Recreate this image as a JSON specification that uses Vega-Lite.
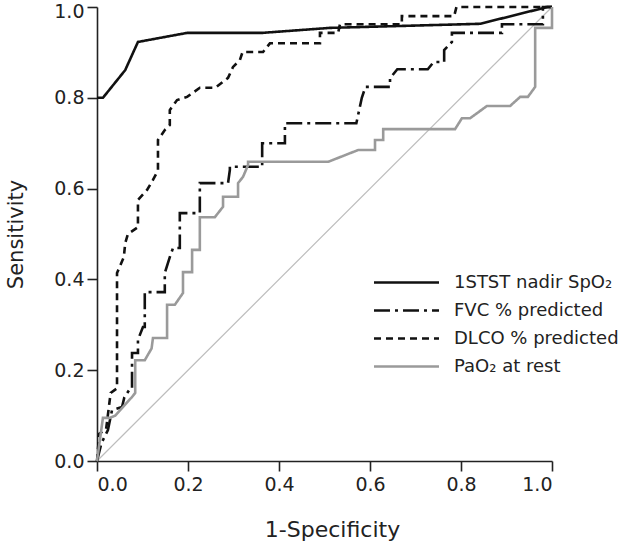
{
  "$schema": "https://vega.github.io/schema/vega-lite/v6.json",
  "autosize": {"type": "none"},
  "width": 455,
  "height": 454,
  "padding": {"left": 97, "top": 7, "right": 76, "bottom": 84},
  "background": "white",
  "config": {
    "view": {"stroke": null},
    "font": "DejaVu Sans",
    "axis": {
      "grid": false,
      "domainColor": "#222",
      "domainWidth": 1.6,
      "tickColor": "#222",
      "tickWidth": 1.6,
      "tickSize": 10,
      "labelFont": "DejaVu Sans",
      "labelFontSize": 19,
      "labelColor": "#222",
      "titleFont": "DejaVu Sans",
      "titleFontSize": 22,
      "titleFontWeight": "normal",
      "titleColor": "#222"
    }
  },
  "datasets": {
    "roc": [
      {"s": "1STST nadir SpO₂", "i": 0, "x": 0, "y": 0.80},
      {"s": "1STST nadir SpO₂", "i": 1, "x": 0.013, "y": 0.80},
      {"s": "1STST nadir SpO₂", "i": 2, "x": 0.062, "y": 0.861},
      {"s": "1STST nadir SpO₂", "i": 3, "x": 0.09, "y": 0.923},
      {"s": "1STST nadir SpO₂", "i": 4, "x": 0.198, "y": 0.943},
      {"s": "1STST nadir SpO₂", "i": 5, "x": 0.363, "y": 0.943},
      {"s": "1STST nadir SpO₂", "i": 6, "x": 0.512, "y": 0.954},
      {"s": "1STST nadir SpO₂", "i": 7, "x": 0.842, "y": 0.963},
      {"s": "1STST nadir SpO₂", "i": 8, "x": 0.99, "y": 1.0},
      {"s": "1STST nadir SpO₂", "i": 9, "x": 1.0, "y": 1.0},

      {"s": "FVC % predicted", "i": 0, "x": 0, "y": 0},
      {"s": "FVC % predicted", "i": 1, "x": 0.01, "y": 0.04},
      {"s": "FVC % predicted", "i": 2, "x": 0.024, "y": 0.068},
      {"s": "FVC % predicted", "i": 3, "x": 0.033, "y": 0.112},
      {"s": "FVC % predicted", "i": 4, "x": 0.055, "y": 0.119},
      {"s": "FVC % predicted", "i": 5, "x": 0.06, "y": 0.14},
      {"s": "FVC % predicted", "i": 6, "x": 0.073, "y": 0.16},
      {"s": "FVC % predicted", "i": 7, "x": 0.077, "y": 0.16},
      {"s": "FVC % predicted", "i": 8, "x": 0.077, "y": 0.238},
      {"s": "FVC % predicted", "i": 9, "x": 0.09, "y": 0.238},
      {"s": "FVC % predicted", "i": 10, "x": 0.09, "y": 0.267},
      {"s": "FVC % predicted", "i": 11, "x": 0.101, "y": 0.295},
      {"s": "FVC % predicted", "i": 12, "x": 0.105, "y": 0.295},
      {"s": "FVC % predicted", "i": 13, "x": 0.105, "y": 0.372},
      {"s": "FVC % predicted", "i": 14, "x": 0.149, "y": 0.372},
      {"s": "FVC % predicted", "i": 15, "x": 0.149, "y": 0.414},
      {"s": "FVC % predicted", "i": 16, "x": 0.16, "y": 0.449},
      {"s": "FVC % predicted", "i": 17, "x": 0.167, "y": 0.469},
      {"s": "FVC % predicted", "i": 18, "x": 0.182, "y": 0.469},
      {"s": "FVC % predicted", "i": 19, "x": 0.182, "y": 0.546},
      {"s": "FVC % predicted", "i": 20, "x": 0.226, "y": 0.546},
      {"s": "FVC % predicted", "i": 21, "x": 0.226, "y": 0.612},
      {"s": "FVC % predicted", "i": 22, "x": 0.288, "y": 0.612},
      {"s": "FVC % predicted", "i": 23, "x": 0.292, "y": 0.641},
      {"s": "FVC % predicted", "i": 24, "x": 0.292, "y": 0.648},
      {"s": "FVC % predicted", "i": 25, "x": 0.363, "y": 0.648},
      {"s": "FVC % predicted", "i": 26, "x": 0.363, "y": 0.70},
      {"s": "FVC % predicted", "i": 27, "x": 0.413, "y": 0.70},
      {"s": "FVC % predicted", "i": 28, "x": 0.413, "y": 0.744},
      {"s": "FVC % predicted", "i": 29, "x": 0.57, "y": 0.744},
      {"s": "FVC % predicted", "i": 30, "x": 0.582, "y": 0.80},
      {"s": "FVC % predicted", "i": 31, "x": 0.59, "y": 0.824},
      {"s": "FVC % predicted", "i": 32, "x": 0.644, "y": 0.824},
      {"s": "FVC % predicted", "i": 33, "x": 0.644, "y": 0.843},
      {"s": "FVC % predicted", "i": 34, "x": 0.66, "y": 0.863},
      {"s": "FVC % predicted", "i": 35, "x": 0.727, "y": 0.863},
      {"s": "FVC % predicted", "i": 36, "x": 0.74, "y": 0.879},
      {"s": "FVC % predicted", "i": 37, "x": 0.763, "y": 0.879},
      {"s": "FVC % predicted", "i": 38, "x": 0.763, "y": 0.905},
      {"s": "FVC % predicted", "i": 39, "x": 0.78, "y": 0.923},
      {"s": "FVC % predicted", "i": 40, "x": 0.78, "y": 0.943},
      {"s": "FVC % predicted", "i": 41, "x": 0.89, "y": 0.943},
      {"s": "FVC % predicted", "i": 42, "x": 0.89, "y": 0.962},
      {"s": "FVC % predicted", "i": 43, "x": 0.98, "y": 0.962},
      {"s": "FVC % predicted", "i": 44, "x": 0.98, "y": 1.0},
      {"s": "FVC % predicted", "i": 45, "x": 1.0, "y": 1.0},

      {"s": "DLCO % predicted", "i": 0, "x": 0, "y": 0},
      {"s": "DLCO % predicted", "i": 1, "x": 0.005, "y": 0.06},
      {"s": "DLCO % predicted", "i": 2, "x": 0.02, "y": 0.07},
      {"s": "DLCO % predicted", "i": 3, "x": 0.03, "y": 0.15},
      {"s": "DLCO % predicted", "i": 4, "x": 0.044, "y": 0.16},
      {"s": "DLCO % predicted", "i": 5, "x": 0.044, "y": 0.414},
      {"s": "DLCO % predicted", "i": 6, "x": 0.059, "y": 0.449},
      {"s": "DLCO % predicted", "i": 7, "x": 0.062, "y": 0.48},
      {"s": "DLCO % predicted", "i": 8, "x": 0.068, "y": 0.50},
      {"s": "DLCO % predicted", "i": 9, "x": 0.09, "y": 0.515},
      {"s": "DLCO % predicted", "i": 10, "x": 0.09, "y": 0.575},
      {"s": "DLCO % predicted", "i": 11, "x": 0.11, "y": 0.597},
      {"s": "DLCO % predicted", "i": 12, "x": 0.123, "y": 0.619},
      {"s": "DLCO % predicted", "i": 13, "x": 0.134, "y": 0.64},
      {"s": "DLCO % predicted", "i": 14, "x": 0.134, "y": 0.707},
      {"s": "DLCO % predicted", "i": 15, "x": 0.149, "y": 0.729},
      {"s": "DLCO % predicted", "i": 16, "x": 0.16, "y": 0.74},
      {"s": "DLCO % predicted", "i": 17, "x": 0.16, "y": 0.773},
      {"s": "DLCO % predicted", "i": 18, "x": 0.176, "y": 0.795},
      {"s": "DLCO % predicted", "i": 19, "x": 0.198, "y": 0.802},
      {"s": "DLCO % predicted", "i": 20, "x": 0.226, "y": 0.822},
      {"s": "DLCO % predicted", "i": 21, "x": 0.26, "y": 0.822},
      {"s": "DLCO % predicted", "i": 22, "x": 0.288, "y": 0.844},
      {"s": "DLCO % predicted", "i": 23, "x": 0.299, "y": 0.868},
      {"s": "DLCO % predicted", "i": 24, "x": 0.314, "y": 0.883},
      {"s": "DLCO % predicted", "i": 25, "x": 0.32, "y": 0.901},
      {"s": "DLCO % predicted", "i": 26, "x": 0.365, "y": 0.901},
      {"s": "DLCO % predicted", "i": 27, "x": 0.38, "y": 0.92},
      {"s": "DLCO % predicted", "i": 28, "x": 0.49, "y": 0.92},
      {"s": "DLCO % predicted", "i": 29, "x": 0.49, "y": 0.943},
      {"s": "DLCO % predicted", "i": 30, "x": 0.53, "y": 0.943},
      {"s": "DLCO % predicted", "i": 31, "x": 0.534, "y": 0.962},
      {"s": "DLCO % predicted", "i": 32, "x": 0.67, "y": 0.962},
      {"s": "DLCO % predicted", "i": 33, "x": 0.67, "y": 0.98},
      {"s": "DLCO % predicted", "i": 34, "x": 0.785, "y": 0.98},
      {"s": "DLCO % predicted", "i": 35, "x": 0.79, "y": 1.0},
      {"s": "DLCO % predicted", "i": 36, "x": 1.0, "y": 1.0},

      {"s": "PaO₂ at rest", "i": 0, "x": 0, "y": 0},
      {"s": "PaO₂ at rest", "i": 1, "x": 0.013, "y": 0.095},
      {"s": "PaO₂ at rest", "i": 2, "x": 0.028, "y": 0.095},
      {"s": "PaO₂ at rest", "i": 3, "x": 0.04, "y": 0.10},
      {"s": "PaO₂ at rest", "i": 4, "x": 0.077, "y": 0.141},
      {"s": "PaO₂ at rest", "i": 5, "x": 0.084, "y": 0.15},
      {"s": "PaO₂ at rest", "i": 6, "x": 0.084, "y": 0.222},
      {"s": "PaO₂ at rest", "i": 7, "x": 0.105, "y": 0.222},
      {"s": "PaO₂ at rest", "i": 8, "x": 0.12, "y": 0.248},
      {"s": "PaO₂ at rest", "i": 9, "x": 0.123, "y": 0.271},
      {"s": "PaO₂ at rest", "i": 10, "x": 0.154, "y": 0.271},
      {"s": "PaO₂ at rest", "i": 11, "x": 0.154, "y": 0.344},
      {"s": "PaO₂ at rest", "i": 12, "x": 0.171, "y": 0.344},
      {"s": "PaO₂ at rest", "i": 13, "x": 0.189, "y": 0.37},
      {"s": "PaO₂ at rest", "i": 14, "x": 0.189, "y": 0.416},
      {"s": "PaO₂ at rest", "i": 15, "x": 0.209, "y": 0.416},
      {"s": "PaO₂ at rest", "i": 16, "x": 0.209, "y": 0.465},
      {"s": "PaO₂ at rest", "i": 17, "x": 0.226, "y": 0.465},
      {"s": "PaO₂ at rest", "i": 18, "x": 0.226, "y": 0.537},
      {"s": "PaO₂ at rest", "i": 19, "x": 0.259, "y": 0.537},
      {"s": "PaO₂ at rest", "i": 20, "x": 0.277, "y": 0.56},
      {"s": "PaO₂ at rest", "i": 21, "x": 0.277, "y": 0.582},
      {"s": "PaO₂ at rest", "i": 22, "x": 0.31, "y": 0.582},
      {"s": "PaO₂ at rest", "i": 23, "x": 0.31, "y": 0.612},
      {"s": "PaO₂ at rest", "i": 24, "x": 0.321, "y": 0.626},
      {"s": "PaO₂ at rest", "i": 25, "x": 0.332, "y": 0.652},
      {"s": "PaO₂ at rest", "i": 26, "x": 0.332, "y": 0.659},
      {"s": "PaO₂ at rest", "i": 27, "x": 0.508, "y": 0.659},
      {"s": "PaO₂ at rest", "i": 28, "x": 0.574, "y": 0.685},
      {"s": "PaO₂ at rest", "i": 29, "x": 0.611, "y": 0.685},
      {"s": "PaO₂ at rest", "i": 30, "x": 0.611, "y": 0.707},
      {"s": "PaO₂ at rest", "i": 31, "x": 0.629, "y": 0.707},
      {"s": "PaO₂ at rest", "i": 32, "x": 0.629, "y": 0.731},
      {"s": "PaO₂ at rest", "i": 33, "x": 0.787, "y": 0.731},
      {"s": "PaO₂ at rest", "i": 34, "x": 0.802, "y": 0.755},
      {"s": "PaO₂ at rest", "i": 35, "x": 0.82, "y": 0.755},
      {"s": "PaO₂ at rest", "i": 36, "x": 0.857, "y": 0.782},
      {"s": "PaO₂ at rest", "i": 37, "x": 0.908, "y": 0.782},
      {"s": "PaO₂ at rest", "i": 38, "x": 0.93, "y": 0.802},
      {"s": "PaO₂ at rest", "i": 39, "x": 0.947, "y": 0.802},
      {"s": "PaO₂ at rest", "i": 40, "x": 0.963, "y": 0.824},
      {"s": "PaO₂ at rest", "i": 41, "x": 0.963, "y": 0.954},
      {"s": "PaO₂ at rest", "i": 42, "x": 1.0, "y": 0.954},
      {"s": "PaO₂ at rest", "i": 43, "x": 1.0, "y": 1.0}
    ],
    "diag": [
      {"x": 0, "y": 0},
      {"x": 1, "y": 1}
    ]
  },
  "layer": [
    {
      "data": {"name": "diag"},
      "mark": {"type": "line", "color": "#bdbdbd", "strokeWidth": 1.2},
      "encoding": {
        "x": {"field": "x", "type": "quantitative"},
        "y": {"field": "y", "type": "quantitative"}
      }
    },
    {
      "data": {"name": "roc"},
      "mark": {"type": "line", "strokeWidth": 2.6, "strokeCap": "butt"},
      "encoding": {
        "x": {
          "field": "x", "type": "quantitative",
          "scale": {"domain": [0, 1], "nice": false},
          "axis": {"values": [0, 0.2, 0.4, 0.6, 0.8, 1.0], "format": ".1f", "labelPadding": 4, "title": "1-Specificity", "titlePadding": 25, "titleX": 235}
        },
        "y": {
          "field": "y", "type": "quantitative",
          "scale": {"domain": [0, 1], "nice": false},
          "axis": {
            "values": [0, 0.2, 0.4, 0.6, 0.8, 1.0], "format": ".1f", "labelPadding": 3,
            "labelOffset": {"condition": {"test": "datum.value === 1", "value": 4}, "value": 0},
            "title": "Sensitivity", "titlePadding": 27, "titleFontSize": 21
          }
        },
        "order": {"field": "i", "type": "quantitative"},
        "color": {
          "field": "s", "type": "nominal",
          "scale": {
            "domain": ["1STST nadir SpO₂", "FVC % predicted", "DLCO % predicted", "PaO₂ at rest"],
            "range": ["#111111", "#111111", "#111111", "#9a9a9a"]
          },
          "legend": {
            "orient": "none", "legendX": 295, "legendY": 261, "title": null,
            "symbolType": "M-2.5,0H2.5", "symbolSize": 676, "symbolStrokeWidth": 2.6,
            "labelFont": "DejaVu Sans", "labelFontSize": 18, "labelColor": "#222", "labelLimit": 400,
            "labelOffset": 33, "rowPadding": 4, "padding": 0
          }
        },
        "strokeDash": {
          "field": "s", "type": "nominal",
          "scale": {
            "domain": ["1STST nadir SpO₂", "FVC % predicted", "DLCO % predicted", "PaO₂ at rest"],
            "range": [[1, 0], [16, 5, 3, 5], [7, 5], [1, 0]]
          },
          "legend": {
            "orient": "none", "legendX": 295, "legendY": 261, "title": null,
            "symbolType": "M-2.5,0H2.5", "symbolSize": 676, "symbolStrokeWidth": 2.6,
            "labelFont": "DejaVu Sans", "labelFontSize": 18, "labelColor": "#222", "labelLimit": 400,
            "labelOffset": 33, "rowPadding": 4, "padding": 0
          }
        }
      }
    }
  ]
}
